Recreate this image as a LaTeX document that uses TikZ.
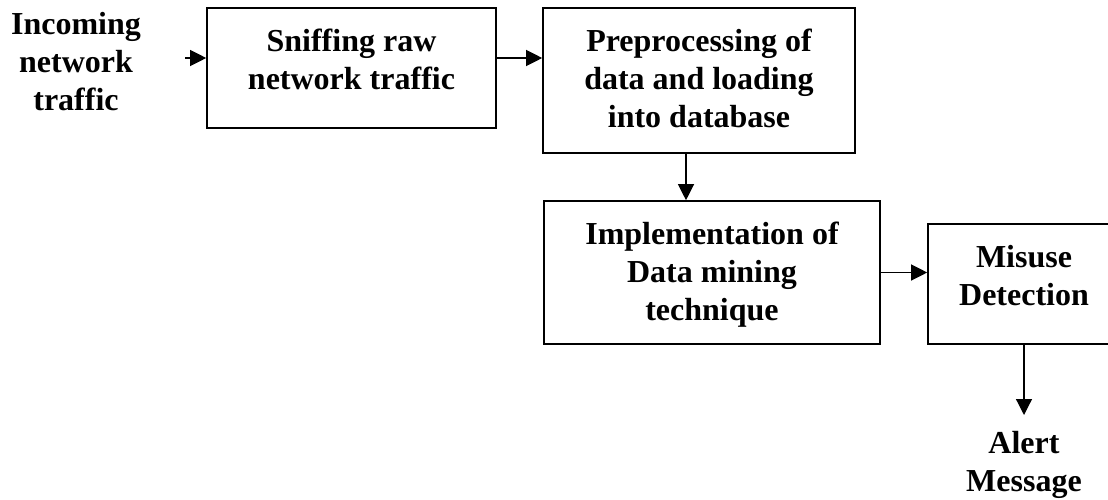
\documentclass[tikz,border=0pt]{standalone}
\usepackage{fontspec}
\setmainfont{Liberation Serif}
\usetikzlibrary{arrows.meta}

\begin{document}
\begin{tikzpicture}[x=0.75pt, y=-0.75pt,
        every node/.style={font=\fontsize{24}{28.5}\selectfont\bfseries, align=center, inner sep=0pt},
        stage/.style={draw, line width=1.2pt},
        flow/.style={-{Triangle[length=12pt, width=12pt]}, line width=0.9pt}]
    \useasboundingbox (0,0) rectangle (1108,500);

    % boxes
    \node[stage, minimum width=216.75pt, minimum height=90pt] (sniff) at (351.5,68) {};
    \node[stage, minimum width=234pt, minimum height=108.75pt] (prep) at (699,80.5) {};
    \node[stage, minimum width=252pt, minimum height=107.25pt] (mine) at (712,272.5) {};
    \node[stage, minimum width=144pt, minimum height=90pt] (misuse) at (1024,284) {};

    % texts
    \node (incoming) at (76,62) {Incoming\\network\\traffic};
    \node[anchor=north] (sniff-txt) at (351.5,29) {Sniffing raw\\network traffic};
    \node[anchor=north] (prep-txt) at (699,29) {Preprocessing of\\data and loading\\into database};
    \node[anchor=north] (mine-txt) at (712,222) {Implementation of\\Data mining\\technique};
    \node[anchor=north] (misuse-txt) at (1024,245) {Misuse\\Detection};
    \node (alert) at (1024,465) {Alert\\Message};

    \coordinate (in) at (185,58);
    \coordinate (down) at (686,0);
    \coordinate (out) at (1024,415);

    \draw[flow] (in) -- (in -| sniff.west);
    \draw[flow] (sniff.east |- in) -- (prep.west |- in);
    \draw[flow] (prep.south -| down) -- (mine.north -| down);
    \draw[flow] (mine.east) -- (mine.east -| misuse.west);
    \draw[flow] (misuse.south) -- (out);
\end{tikzpicture}
\end{document}
